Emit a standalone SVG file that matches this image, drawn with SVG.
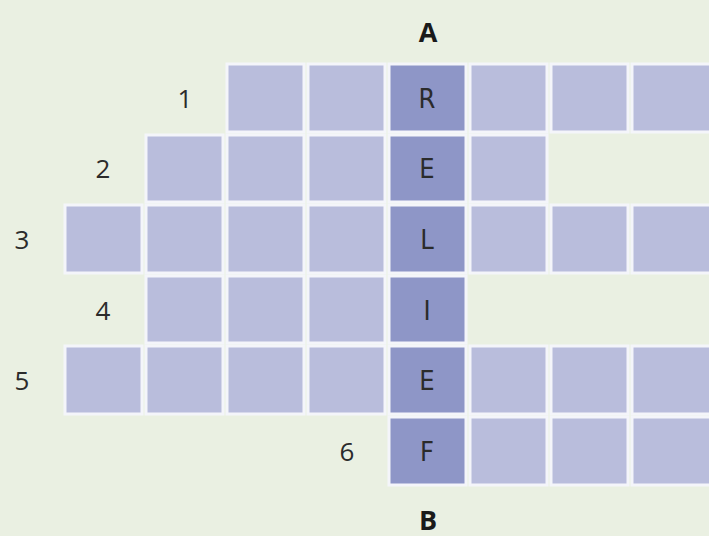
<svg xmlns="http://www.w3.org/2000/svg" width="709" height="536" viewBox="0 0 709 536">
<style>
.c{fill:#b9bddc;stroke:#f4f5fa;stroke-width:3}
.k{fill:#8e96c7;stroke:#f4f5fa;stroke-width:3}
.n{font-family:"Open Sans","Liberation Sans",sans-serif;font-size:26px;fill:#2b2b2b;text-anchor:middle}
.l{font-family:"Liberation Sans Narrow","DejaVu Sans Condensed","Liberation Sans",sans-serif;font-stretch:condensed;font-size:27px;fill:#2b2b2b;text-anchor:middle}
.h{font-family:"Open Sans","Liberation Sans",sans-serif;font-weight:bold;font-size:27px;fill:#1a1a1a;text-anchor:middle}
</style>
<rect width="709" height="536" fill="#eaf0e2"/>
<g id="row1">
<rect class="c" x="227" y="64" width="77" height="68"/><rect class="c" x="308" y="64" width="77" height="68"/><rect class="k" x="389" y="64" width="77" height="68"/><rect class="c" x="470" y="64" width="77" height="68"/><rect class="c" x="551" y="64" width="77" height="68"/><rect class="c" x="632" y="64" width="79" height="68"/>
<text class="n" x="185" y="108">1</text><text class="l" x="427" y="108">R</text>
</g>
<g id="row2">
<rect class="c" x="146" y="135" width="77" height="67"/><rect class="c" x="227" y="135" width="77" height="67"/><rect class="c" x="308" y="135" width="77" height="67"/><rect class="k" x="389" y="135" width="77" height="67"/><rect class="c" x="470" y="135" width="77" height="67"/>
<text class="n" x="103" y="178">2</text><text class="l" x="427" y="178">E</text>
</g>
<g id="row3">
<rect class="c" x="65" y="205" width="77" height="68"/><rect class="c" x="146" y="205" width="77" height="68"/><rect class="c" x="227" y="205" width="77" height="68"/><rect class="c" x="308" y="205" width="77" height="68"/><rect class="k" x="389" y="205" width="77" height="68"/><rect class="c" x="470" y="205" width="77" height="68"/><rect class="c" x="551" y="205" width="77" height="68"/><rect class="c" x="632" y="205" width="79" height="68"/>
<text class="n" x="22" y="249">3</text><text class="l" x="427" y="249">L</text>
</g>
<g id="row4">
<rect class="c" x="146" y="276" width="77" height="67"/><rect class="c" x="227" y="276" width="77" height="67"/><rect class="c" x="308" y="276" width="77" height="67"/><rect class="k" x="389" y="276" width="77" height="67"/>
<text class="n" x="103" y="320">4</text><text class="l" x="427" y="320">I</text>
</g>
<g id="row5">
<rect class="c" x="65" y="346" width="77" height="68"/><rect class="c" x="146" y="346" width="77" height="68"/><rect class="c" x="227" y="346" width="77" height="68"/><rect class="c" x="308" y="346" width="77" height="68"/><rect class="k" x="389" y="346" width="77" height="68"/><rect class="c" x="470" y="346" width="77" height="68"/><rect class="c" x="551" y="346" width="77" height="68"/><rect class="c" x="632" y="346" width="79" height="68"/>
<text class="n" x="22" y="390">5</text><text class="l" x="427" y="390">E</text>
</g>
<g id="row6">
<rect class="k" x="389" y="417" width="77" height="68"/><rect class="c" x="470" y="417" width="77" height="68"/><rect class="c" x="551" y="417" width="77" height="68"/><rect class="c" x="632" y="417" width="79" height="68"/>
<text class="n" x="347" y="461">6</text><text class="l" x="427" y="461">F</text>
</g>
<g id="labels">
<text class="h" x="428" y="42">A</text>
<text class="h" x="428" y="530">B</text>
</g>
<g id="connectors"/>
</svg>
